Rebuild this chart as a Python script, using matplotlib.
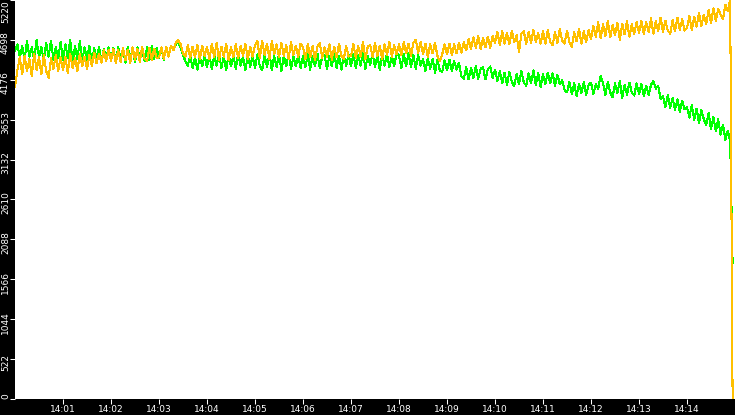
import datetime as dt
import numpy as np
import matplotlib
matplotlib.use('Agg')
import matplotlib.pyplot as plt
import matplotlib.transforms as mtransforms

# samples every 3 s starting 14:00:00, one row per minute (20 samples)
start = dt.datetime(2024, 1, 1, 14, 0, 0)
step_s = 3

green_rows = [
    [4550, 4640, 4470, 4620, 4440, 4680, 4480, 4600, 4430, 4700, 4470, 4610, 4420, 4660, 4480, 4690, 4440, 4600, 4460, 4670],
    [4430, 4640, 4460, 4700, 4400, 4620, 4450, 4680, 4420, 4600, 4440, 4620, 4390, 4590, 4450, 4610, 4420, 4580, 4460, 4600],
    [4430, 4590, 4410, 4600, 4440, 4570, 4400, 4610, 4450, 4580, 4410, 4600, 4460, 4570, 4420, 4600, 4430, 4620, 4450, 4590],
    [4460, 4600, 4440, 4610, 4500, 4620, 4560, 4640, 4670, 4600, 4500, 4420, 4360, 4490, 4330, 4470, 4310, 4480, 4350, 4490],
    [4340, 4500, 4320, 4490, 4360, 4520, 4330, 4480, 4300, 4510, 4350, 4500, 4320, 4520, 4360, 4480, 4300, 4500, 4340, 4490],
    [4330, 4510, 4360, 4300, 4500, 4340, 4530, 4300, 4490, 4340, 4510, 4290, 4490, 4350, 4520, 4320, 4480, 4350, 4500, 4330],
    [4490, 4340, 4510, 4310, 4490, 4350, 4520, 4330, 4480, 4500, 4320, 4490, 4350, 4530, 4330, 4490, 4310, 4500, 4360, 4510],
    [4350, 4520, 4330, 4500, 4360, 4540, 4320, 4490, 4370, 4530, 4340, 4500, 4300, 4510, 4360, 4520, 4340, 4490, 4350, 4530],
    [4490, 4330, 4510, 4350, 4530, 4340, 4500, 4320, 4500, 4360, 4450, 4290, 4460, 4320, 4450, 4270, 4440, 4300, 4280, 4430],
    [4300, 4440, 4290, 4420, 4310, 4400, 4220, 4190, 4340, 4180, 4330, 4200, 4360, 4190, 4320, 4340, 4180, 4310, 4350, 4200],
    [4310, 4160, 4290, 4130, 4270, 4110, 4280, 4150, 4090, 4250, 4120, 4290, 4140, 4100, 4260, 4130, 4300, 4110, 4270, 4080],
    [4250, 4120, 4270, 4130, 4260, 4100, 4240, 4120, 4170, 4040, 4010, 4150, 3990, 4130, 3960, 4120, 4000, 4150, 3980, 4110],
    [4140, 3990, 4120, 4060, 4230, 4130, 3980, 4150, 4010, 3950, 4130, 4000, 4160, 3940, 4110, 3980, 4140, 4010, 3970, 4130],
    [3990, 4120, 3960, 4100, 3980, 4110, 4160, 4060, 4100, 3920, 3960, 3820, 3980, 3810, 3940, 3780, 3920, 3760, 3900, 3790],
    [3820, 3680, 3850, 3650, 3800, 3610, 3780, 3660, 3580, 3740, 3530, 3690, 3500, 3660, 3460, 3590, 3390, 3510, 3360, 1775],
]

yellow_rows = [
    [4080, 4300, 4470, 4250, 4490, 4290, 4450, 4220, 4520, 4300, 4470, 4250, 4500, 4290, 4200, 4460, 4320, 4500, 4290, 4470],
    [4300, 4480, 4260, 4510, 4330, 4460, 4290, 4520, 4350, 4480, 4320, 4500, 4360, 4530, 4390, 4520, 4400, 4560, 4420, 4570],
    [4420, 4580, 4400, 4560, 4410, 4590, 4430, 4570, 4390, 4600, 4440, 4580, 4410, 4610, 4450, 4420, 4590, 4440, 4580, 4460],
    [4470, 4600, 4450, 4610, 4480, 4620, 4560, 4660, 4700, 4640, 4520, 4480, 4630, 4460, 4610, 4470, 4630, 4450, 4620, 4490],
    [4610, 4450, 4640, 4470, 4660, 4440, 4610, 4480, 4650, 4430, 4600, 4470, 4640, 4460, 4620, 4490, 4650, 4450, 4610, 4480],
    [4630, 4680, 4460, 4690, 4500, 4650, 4450, 4680, 4510, 4640, 4470, 4660, 4490, 4630, 4450, 4670, 4500, 4620, 4480, 4650],
    [4600, 4450, 4640, 4470, 4620, 4430, 4610, 4660, 4460, 4600, 4480, 4640, 4440, 4610, 4470, 4650, 4490, 4450, 4620, 4480],
    [4490, 4650, 4460, 4620, 4480, 4670, 4450, 4610, 4630, 4470, 4660, 4490, 4620, 4450, 4640, 4500, 4670, 4480, 4630, 4510],
    [4640, 4500, 4670, 4520, 4650, 4490, 4660, 4700, 4530, 4670, 4510, 4650, 4480, 4640, 4520, 4660, 4490, 4420, 4510, 4640],
    [4510, 4650, 4500, 4640, 4520, 4660, 4530, 4670, 4560, 4710, 4580, 4730, 4590, 4750, 4580, 4720, 4600, 4740, 4590, 4750],
    [4660, 4800, 4630, 4810, 4650, 4790, 4640, 4820, 4670, 4760, 4540, 4780, 4810, 4650, 4800, 4660, 4830, 4670, 4790, 4650],
    [4810, 4650, 4830, 4670, 4630, 4800, 4660, 4840, 4690, 4650, 4820, 4670, 4610, 4800, 4680, 4840, 4650, 4810, 4670, 4830],
    [4710, 4880, 4740, 4930, 4720, 4900, 4750, 4950, 4730, 4890, 4760, 4920, 4700, 4910, 4770, 4940, 4740, 4900, 4780, 4930],
    [4790, 4950, 4770, 4930, 4800, 4980, 4780, 4940, 4810, 4990, 4800, 4950, 4820, 4780, 4960, 4810, 4990, 4830, 4970, 4820],
    [4850, 5010, 4830, 5000, 4870, 5050, 4880, 5030, 4900, 5090, 4920, 5110, 4950, 5100, 5030, 4970, 5160, 5080, 5220, 0],
]

y_ticks = [0, 522, 1044, 1566, 2088, 2610, 3132, 3653, 4176, 4698, 5220]
y_labels = ['0', '522', '1044', '1566', '2088', '2610', '3132', '3653', '4176', '4698', '5220']
x_labels = ['14:01', '14:02', '14:03', '14:04', '14:05', '14:06', '14:07',
            '14:08', '14:09', '14:10', '14:11', '14:12', '14:13', '14:14']

green = np.concatenate(green_rows)
yellow = np.concatenate(yellow_rows)
times = [start + dt.timedelta(seconds=step_s * i) for i in range(len(green))]
x_pos = [start.replace(hour=int(s[:2]), minute=int(s[3:])) for s in x_labels]

W, H = 735, 415
fig = plt.figure(figsize=(W / 100, H / 100), dpi=100, facecolor='black')
ax = fig.add_axes([15 / W, 16 / H, 720 / W, 399 / H])
ax.set_facecolor('white')

ax.plot(times, green, color='#00ff00', lw=0.75, antialiased=False)
ax.plot(times, yellow, color='#ffc000', lw=0.75, antialiased=False)

ax.set_xlim(start, start + dt.timedelta(minutes=15))
ax.set_ylim(0, 5220)
for s in ax.spines.values():
    s.set_visible(False)

ax.set_xticks(x_pos)
ax.set_xticklabels(x_labels)
ax.tick_params(axis='x', colors='white', length=3.6, width=0.75, pad=0.5, labelsize=6.5)

ax.set_yticks(y_ticks)
ax.set_yticklabels([])
ax.tick_params(axis='y', colors='white', length=3.6, width=0.75)

# rotated y labels, kept inside the figure at both ends
trans = mtransforms.blended_transform_factory(ax.transAxes, ax.transData)
shift = mtransforms.ScaledTranslation(0, -3 / 100, fig.dpi_scale_trans)
for v, lab in zip(y_ticks, y_labels):
    if v == y_ticks[0]:
        va, tr = 'bottom', trans
    elif v == y_ticks[-1]:
        va, tr = 'top', trans
    else:
        va, tr = 'center', trans + shift
    ax.text(-5 / 720, v, lab, transform=tr, rotation=90, ha='right', va=va,
            color='white', fontsize=6.5, clip_on=False)

fig.savefig('out.png', dpi=100, facecolor='black')
